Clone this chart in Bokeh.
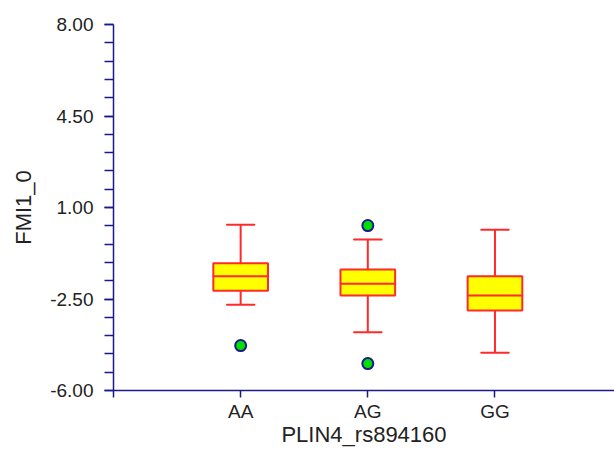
from bokeh.plotting import figure
from bokeh.models import Range1d, FixedTicker, ColumnDataSource
from bokeh.embed import file_html
from bokeh.resources import INLINE

# ---- data ----
groups = ["AA", "AG", "GG"]
positions = [1, 2, 3]
whisker_low = [-2.72, -3.77, -4.56]
q1 = [-2.18, -2.37, -2.94]
median = [-1.63, -1.92, -2.37]
q3 = [-1.13, -1.37, -1.63]
whisker_high = [0.34, -0.22, 0.15]
outlier_group = [1, 2, 2]
outlier_value = [-4.28, 0.31, -4.97]

y_ticks = [8.00, 4.50, 1.00, -2.50, -6.00]

AXIS = "#1a1a8c"
RED = "#ff2a2a"

p = figure(width=614, height=450, output_backend="svg", toolbar_location=None,
           x_range=Range1d(0, 3.94), y_range=Range1d(-6, 8),
           min_border_left=113, min_border_top=24, min_border_right=0,
           min_border_bottom=60)
p.outline_line_color = None
p.grid.visible = False
p.background_fill_color = "white"

box_w = 0.43
cap_w = 0.22
src = ColumnDataSource(dict(x=positions, lo=whisker_low, q1=q1, med=median,
                            q3=q3, hi=whisker_high))
# whiskers
p.segment(x0="x", y0="hi", x1="x", y1="q3", source=src, line_color=RED, line_width=2)
p.segment(x0="x", y0="lo", x1="x", y1="q1", source=src, line_color=RED, line_width=2)
p.rect(x="x", y="hi", width=cap_w, height=0.0001, source=src, line_color=RED, line_width=2, fill_color=None)
p.rect(x="x", y="lo", width=cap_w, height=0.0001, source=src, line_color=RED, line_width=2, fill_color=None)
# boxes
p.vbar(x="x", width=box_w, bottom="q1", top="q3", source=src,
       fill_color="#ffff00", line_color=RED, line_width=2)
p.rect(x="x", y="med", width=box_w, height=0.0001, source=src, line_color=RED, line_width=2, fill_color=None)
# outliers
p.scatter(x=outlier_group, y=outlier_value, size=11, fill_color="#00e000",
          line_color=AXIS, line_width=2)

# axes
for ax in (p.xaxis[0], p.yaxis[0]):
    ax.axis_line_color = AXIS
    ax.axis_line_width = 1.5
    ax.major_tick_line_color = AXIS
    ax.minor_tick_line_color = AXIS
    ax.major_tick_line_width = 1.5
    ax.minor_tick_line_width = 1.5
    ax.major_label_text_font = "Liberation Sans"
    ax.major_label_text_font_size = "19px"
    ax.major_label_text_color = "#222222"
    ax.axis_label_text_font = "Liberation Sans"
    ax.axis_label_text_font_size = "22px"
    ax.axis_label_text_font_style = "normal"
    ax.axis_label_text_color = "#222222"

p.yaxis.ticker = FixedTicker(ticks=y_ticks, minor_ticks=[round(-6 + 0.7 * i, 2) for i in range(21)])
p.yaxis.major_label_overrides = {t: f"{t:.2f}" for t in y_ticks}
p.yaxis.major_tick_out = 9
p.yaxis.major_tick_in = 0
p.yaxis.minor_tick_out = 9
p.yaxis.minor_tick_in = 0
p.yaxis.major_label_standoff = 11
p.yaxis.axis_label = "FMI1_0"
p.yaxis.axis_label_standoff = 11

p.xaxis.ticker = FixedTicker(ticks=[0] + positions, minor_ticks=[])
p.xaxis.major_label_overrides = {0: "", **{pos: g for pos, g in zip(positions, groups)}}
p.xaxis.major_tick_out = 7
p.xaxis.major_tick_in = 0
p.xaxis.major_label_standoff = 3
p.xaxis.axis_label = "PLIN4_rs894160"
p.xaxis.axis_label_standoff = -3

open("out.html", "w").write(file_html(p, INLINE))
